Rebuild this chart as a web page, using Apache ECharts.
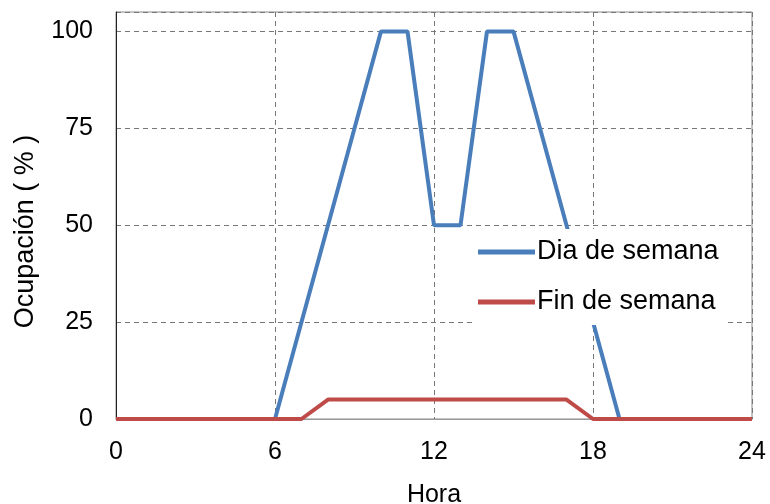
<!DOCTYPE html>
<html>
<head>
<meta charset="utf-8">
<script src="https://cdn.jsdelivr.net/npm/echarts@6/dist/echarts.min.js"></script>
<style>html,body{margin:0;padding:0;background:#fff;}#c{width:770px;height:504px;}</style>
</head>
<body>
<div id="c"></div>
<script>
const hours = [0,1,2,3,4,5,6,7,8,9,10,11,12,13,14,15,16,17,18,19,20,21,22,23,24];
const diaSemana = [0,0,0,0,0,0,0,25,50,75,100,100,50,50,100,100,75,50,25,0,0,0,0,0,0];
const finSemana = [0,0,0,0,0,0,0,0,5,5,5,5,5,5,5,5,5,5,0,0,0,0,0,0,0];
const seriesNames = ['Dia de semana','Fin de semana'];
const xTicks = [0,6,12,18,24];
const yTicks = [0,25,50,75,100];

const chart = echarts.init(document.getElementById('c'));
const font = 'Liberation Sans, Arial, sans-serif';
const pair = arr => hours.map((h,i)=>[h,arr[i]]);
chart.setOption({
  animation:false,
  backgroundColor:'#fff',
  grid:{left:116,right:18,top:12,bottom:85,show:true,borderColor:'#888',borderWidth:1,
        containLabel:false, outerBoundsMode:'none'},
  legend:{
    orient:'vertical', left:472, top:229, itemGap:20,
    backgroundColor:'#fff', padding:[8,6,8,6],
    icon:'rect', itemWidth:57, itemHeight:5,
    textStyle:{fontFamily:font,fontSize:27,color:'#000',lineHeight:30,padding:[0,0,0,-3]},
    data:seriesNames
  },
  xAxis:{
    type:'value', min:0, max:24, interval:6,
    name:'Hora', nameLocation:'middle', nameGap:64,
    nameTextStyle:{fontFamily:font,fontSize:25,color:'#000'},
    axisLine:{show:true,lineStyle:{color:'#999',width:1}},
    axisTick:{show:false},
    axisLabel:{fontFamily:font,fontSize:25,color:'#000',margin:21,
      formatter:v=> xTicks.includes(v)? String(v):''},
    splitLine:{show:true,lineStyle:{color:'#777',type:[5,4],width:1}}
  },
  yAxis:{
    type:'value', min:0, max:105, interval:25,
    name:'Ocupación ( % )', nameLocation:'middle', nameGap:77,
    nameTextStyle:{fontFamily:font,fontSize:27,color:'#000',padding:[0,32,0,0]},
    axisLine:{show:true,lineStyle:{color:'#222',width:1}},
    axisTick:{show:false},
    axisLabel:{fontFamily:font,fontSize:25,color:'#000',margin:23,
      formatter:v=> yTicks.includes(v)? String(v):''},
    splitLine:{show:true,lineStyle:{color:'#777',type:[5,4],width:1}}
  },
  series:[
    {name:seriesNames[0],type:'line',data:pair(diaSemana),showSymbol:false,
     lineStyle:{color:'#4A7EBB',width:4},itemStyle:{color:'#4A7EBB'},z:3},
    {name:seriesNames[1],type:'line',data:pair(finSemana),showSymbol:false,
     lineStyle:{color:'#BE4B48',width:4},itemStyle:{color:'#BE4B48'},z:4}
  ]
});
</script>
</body>
</html>
